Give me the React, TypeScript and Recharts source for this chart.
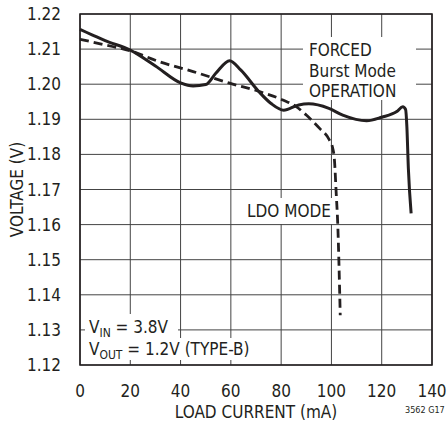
import React from "react";
import { LineChart, Line, XAxis, YAxis, CartesianGrid, ReferenceArea } from "recharts";

const FONT = '"Liberation Sans Narrow", "DejaVu Sans Condensed", "Liberation Sans", sans-serif';
const INK = "#231f20";
const FS = 17;

const xTicks = [0, 20, 40, 60, 80, 100, 120, 140];
const yTicks = [1.12, 1.13, 1.14, 1.15, 1.16, 1.17, 1.18, 1.19, 1.2, 1.21, 1.22];

// forced Burst Mode operation (solid)
const burstCurrent = [0, 5, 10, 20, 30, 40, 45, 50, 54, 59.5, 64, 71, 76, 81, 87, 91, 99, 104.5, 114, 120, 126, 128.4, 129.5, 130, 130.6, 131.7];
const burstVoltage = [1.2156, 1.214, 1.2124, 1.2097, 1.2052, 1.2004, 1.1995, 1.1999, 1.2031, 1.2067, 1.204, 1.198, 1.1945, 1.1926, 1.1941, 1.1944, 1.1931, 1.1912, 1.1896, 1.1906, 1.1922, 1.1936, 1.1928, 1.188, 1.176, 1.1632];

// LDO mode (dashed)
const ldoCurrent = [0, 10, 20, 31.6, 45, 59.5, 71.4, 80.7, 86, 90, 95.3, 99.2, 100.5, 101.2, 101.9, 102.5, 103.5];
const ldoVoltage = [1.2128, 1.2112, 1.2095, 1.2064, 1.2036, 1.2003, 1.1979, 1.1955, 1.1936, 1.1912, 1.1874, 1.1841, 1.1818, 1.1784, 1.1689, 1.1604, 1.1342];

const burstData = burstCurrent.map((x, i) => ({ x, v: burstVoltage[i] }));
const ldoData = ldoCurrent.map((x, i) => ({ x, v: ldoVoltage[i] }));

const box: React.CSSProperties = {
  position: "absolute",
  background: "#fff",
  color: INK,
  fontFamily: FONT,
  fontSize: FS,
  whiteSpace: "nowrap",
  boxSizing: "border-box",
};

const sub: React.CSSProperties = { fontSize: 12, position: "relative", top: 4 };

export default function App() {
  return (
    <div style={{ position: "absolute", left: 0, top: 0, width: 447, height: 422, background: "#fff" }}>
      <LineChart width={447} height={422} margin={{ top: 14, right: 15, left: 0, bottom: 0 }}>
        <CartesianGrid stroke="#444" strokeWidth={1} />
        <XAxis
          type="number"
          dataKey="x"
          domain={[0, 140]}
          ticks={xTicks}
          height={57}
          axisLine={false}
          tickLine={false}
          tickMargin={14}
          tick={{ fill: INK, fontSize: FS, fontFamily: FONT }}
          label={{ value: "LOAD CURRENT (mA)", position: "insideBottom", offset: 4, fill: INK, fontSize: FS, fontFamily: FONT }}
        />
        <YAxis
          type="number"
          domain={[1.12, 1.22]}
          ticks={yTicks}
          width={80}
          axisLine={false}
          tickLine={false}
          tickMargin={13}
          tickFormatter={(v: number) => v.toFixed(2)}
          tick={{ fill: INK, fontSize: FS, fontFamily: FONT }}
          label={{
            value: "VOLTAGE (V)",
            angle: -90,
            position: "insideLeft",
            offset: 17,
            fill: INK,
            fontSize: FS,
            fontFamily: FONT,
            style: { textAnchor: "middle" },
          }}
        />
        <ReferenceArea x1={0} x2={140} y1={1.12} y2={1.22} fill="none" stroke={INK} strokeWidth={1.6} />
        <Line data={ldoData} dataKey="v" type="monotone" stroke={INK} strokeWidth={2.8} strokeDasharray="9 5" dot={false} isAnimationActive={false} />
        <Line data={burstData} dataKey="v" type="monotone" stroke={INK} strokeWidth={3} dot={false} isAnimationActive={false} />
      </LineChart>

      <div style={{ ...box, left: 303, top: 37, width: 113, height: 63, paddingLeft: 6, paddingTop: 3, lineHeight: "20.6px" }}>
        FORCED
        <br />
        Burst Mode
        <br />
        OPERATION
      </div>
      <div style={{ ...box, left: 244, top: 198, width: 88, height: 26, paddingLeft: 3, lineHeight: "26px" }}>LDO MODE</div>
      <div style={{ ...box, left: 85, top: 314, width: 93, height: 24, paddingLeft: 4, paddingTop: 2, lineHeight: "22px" }}>
        V<span style={sub}>IN</span> = 3.8V
      </div>
      <div style={{ ...box, left: 85, top: 338, width: 170, height: 22, paddingLeft: 4, lineHeight: "22px" }}>
        V<span style={sub}>OUT</span> = 1.2V (TYPE-B)
      </div>
      <div style={{ ...box, background: "transparent", left: 405, top: 404, fontSize: 9, lineHeight: "12px" }}>3562 G17</div>
    </div>
  );
}
